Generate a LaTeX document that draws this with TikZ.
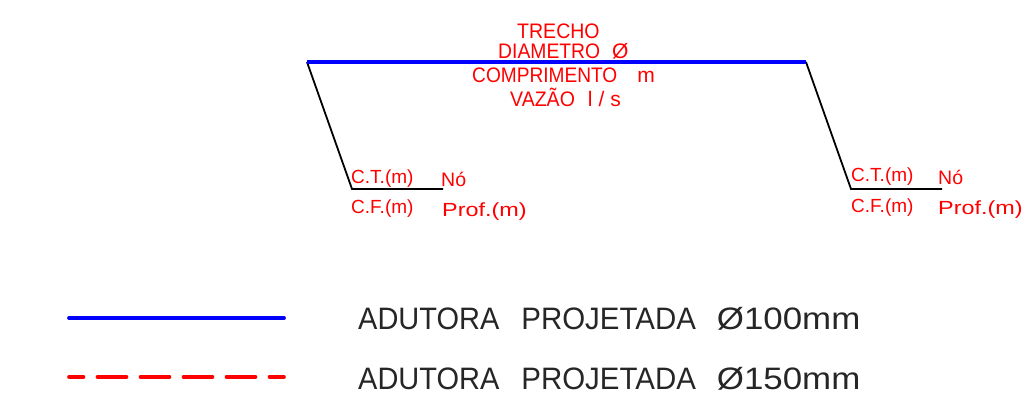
\documentclass[tikz,border=0pt]{standalone}
\usepackage{fontspec}
\usepackage{graphicx}
\setmainfont{Liberation Sans}
\newcommand{\sx}[2]{\scalebox{#1}[1]{#2}}
\tikzset{
  blueline/.style={draw=blue,line width=3.8pt},
  redline/.style={draw=red,line width=3.6pt,line cap=round,dash pattern=on 29pt off 14pt,dash phase=14.5pt},
  blackline/.style={draw=black,line width=1.8pt},
  lblw/.style={text=red,inner sep=0pt,anchor=base west,font=\fontsize{#1}{#1}\selectfont},
  leg/.style={text=black!85,inner sep=0pt,anchor=base west,font=\fontsize{31}{31}\selectfont}
}
\begin{document}
\begin{tikzpicture}[x=1pt,y=-1pt]
\useasboundingbox (0,0) rectangle (1035,397);
\coordinate (a1) at (307,62);
\coordinate (a2) at (806,62);
\coordinate (b1) at (352,189);
\coordinate (c1) at (443,189);
\coordinate (b2) at (851,189);
\coordinate (c2) at (942,189);
\draw[blackline] (a1) -- (b1) -- (c1);
\draw[blackline] (a2) -- (b2) -- (c2);
\draw[blueline] (a1) -- (a2);
\node[lblw=21] (t1) at (517,38) {\sx{.93}{TRECHO}};
\node[lblw=21] (t2) at (498,58) {\sx{.92}{DIAMETRO}\hspace{12pt}Ø};
\node[lblw=21] (t3) at (472,82) {\sx{.91}{COMPRIMENTO}\hspace{20pt}m};
\node[lblw=21] (t4) at (510,106) {\sx{.93}{VAZÃO}\hspace{13pt}l\hspace{6pt}/\hspace{6pt}s};
\node[lblw=19] (n1) at (351,183) {C.T.(m)};
\node[lblw=19] (n2) at (351,213) {C.F.(m)};
\node[lblw=19.5] (n3) at (441,186) {Nó};
\node[lblw=19] (n4) at (442,216) {\sx{1.23}{Prof.(m)}};
\node[lblw=19] (m1) at (851,181) {C.T.(m)};
\node[lblw=19] (m2) at (851,212) {C.F.(m)};
\node[lblw=19.5] (m3) at (938,184) {Nó};
\node[lblw=19] (m4) at (938,214) {\sx{1.23}{Prof.(m)}};
\coordinate (l1) at (69,318);
\coordinate (l2) at (284,318);
\coordinate (r1) at (69,377);
\coordinate (r2) at (284,377);
\draw[blueline,line cap=round] (l1) -- (l2);
\draw[redline] (r1) -- (r2);
\node[leg] (k1) at (358,329) {\sx{.935}{ADUTORA}\hspace{22pt}\sx{.95}{PROJETADA}\hspace{21pt}\sx{1.125}{Ø100mm}};
\node[leg] (k2) at (358,389) {\sx{.935}{ADUTORA}\hspace{22pt}\sx{.95}{PROJETADA}\hspace{21pt}\sx{1.125}{Ø150mm}};
\end{tikzpicture}
\end{document}
